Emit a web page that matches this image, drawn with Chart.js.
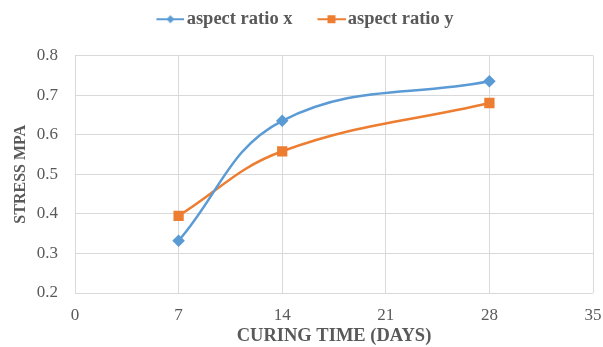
<!DOCTYPE html>
<html>
<head>
<meta charset="utf-8">
<script src="https://cdn.jsdelivr.net/npm/chart.js@4"></script>
<style>
    html, body { margin: 0; padding: 0; background: #fff; }
    #wrap { width: 603px; height: 347px; }
</style>
</head>
<body>
<div id="wrap"><canvas id="chart"></canvas></div>
<script>
// Data
var days = [7, 14, 28];
var ratioX = [0.332, 0.635, 0.735];
var ratioY = [0.395, 0.558, 0.68];
var seriesNames = ['aspect ratio x', 'aspect ratio y'];
var xTicks = [0, 7, 14, 21, 28, 35];
var yTicks = [0.2, 0.3, 0.4, 0.5, 0.6, 0.7, 0.8];

var blue = '#5B9BD5';
var orange = '#ED7D31';
var grey = '#595959';
var serif = "'Liberation Serif', 'DejaVu Serif', serif";

function toPoints(xs, ys) {
    return xs.map(function (x, i) { return { x: x, y: ys[i] }; });
}

// legend swatch: line with marker, drawn on the right part of a wider image
// so it sits close to its label text
function legendIcon(color, shape) {
    var c = document.createElement('canvas');
    c.width = 52; c.height = 10;
    var g = c.getContext('2d');
    var x0 = 24;
    g.strokeStyle = color;
    g.lineWidth = 2;
    g.beginPath(); g.moveTo(x0, 5); g.lineTo(x0 + 28, 5); g.stroke();
    g.fillStyle = color;
    if (shape === 'diamond') {
        g.beginPath(); g.moveTo(x0 + 14, 1); g.lineTo(x0 + 18, 5); g.lineTo(x0 + 14, 9); g.lineTo(x0 + 10, 5); g.closePath(); g.fill();
    } else {
        g.fillRect(x0 + 10, 1, 8, 8);
    }
    return c;
}

// extra gap under the legend
var legendGap = {
    id: 'legendGap',
    beforeInit: function (chart) {
        var fit = chart.legend.fit;
        chart.legend.fit = function () {
            fit.bind(chart.legend)();
            this.height += 17;
        };
    }
};

new Chart(document.getElementById('chart'), {
    type: 'scatter',
    plugins: [legendGap],
    data: {
        datasets: [{
            label: seriesNames[0],
            data: toPoints(days, ratioX),
            showLine: true,
            borderColor: blue,
            backgroundColor: blue,
            borderWidth: 2.5,
            tension: 0.4,
            pointStyle: 'rectRot',
            pointRadius: 4.5,
            pointHoverRadius: 4.5
        }, {
            label: seriesNames[1],
            data: toPoints(days, ratioY),
            showLine: true,
            borderColor: orange,
            backgroundColor: orange,
            borderWidth: 2.5,
            tension: 0.4,
            pointStyle: 'rect',
            pointRadius: 5.5,
            pointHoverRadius: 5.5
        }]
    },
    options: {
        responsive: true,
        maintainAspectRatio: false,
        animation: false,
        layout: { padding: { left: 0, right: 10, top: 2, bottom: 0 } },
        plugins: {
            tooltip: { enabled: false },
            legend: {
                position: 'top',
                labels: {
                    usePointStyle: true,
                    pointStyleWidth: 38,
                    color: grey,
                    font: { family: serif, size: 18.5, weight: 'bold' },
                    padding: 8,
                    generateLabels: function (chart) {
                        return seriesNames.map(function (name, i) {
                            return {
                                text: name,
                                fontColor: grey,
                                pointStyle: legendIcon(i === 0 ? blue : orange, i === 0 ? 'diamond' : 'square'),
                                datasetIndex: i,
                                hidden: false,
                                lineWidth: 0
                            };
                        });
                    }
                }
            }
        },
        scales: {
            x: {
                type: 'linear',
                min: 0,
                max: 35,
                afterBuildTicks: function (axis) {
                    axis.ticks = xTicks.map(function (v) { return { value: v }; });
                },
                afterFit: function (axis) {
                    axis.height = 54;
                    axis.paddingRight = 0;
                },
                grid: { color: '#d9d9d9', drawTicks: false },
                border: { display: false },
                ticks: { color: grey, font: { family: serif, size: 17 }, padding: 12 },
                title: {
                    display: true,
                    text: 'CURING TIME (DAYS)',
                    color: grey,
                    font: { family: serif, size: 18.5, weight: 'bold' },
                    padding: { top: 0, bottom: 0 }
                }
            },
            y: {
                min: 0.2,
                max: 0.8,
                afterBuildTicks: function (axis) {
                    axis.ticks = yTicks.map(function (v) { return { value: v }; });
                },
                afterFit: function (axis) {
                    axis.width = 75;
                },
                grid: { color: '#d9d9d9', drawTicks: false },
                border: { display: false },
                ticks: {
                    color: grey,
                    font: { family: serif, size: 17 },
                    padding: 17,
                    callback: function (v) { return v.toFixed(1); }
                },
                title: {
                    display: true,
                    text: 'STRESS MPA',
                    color: grey,
                    font: { family: serif, size: 16, weight: 'bold' },
                    padding: { top: 11, bottom: 0 }
                }
            }
        }
    }
});
</script>
</body>
</html>
